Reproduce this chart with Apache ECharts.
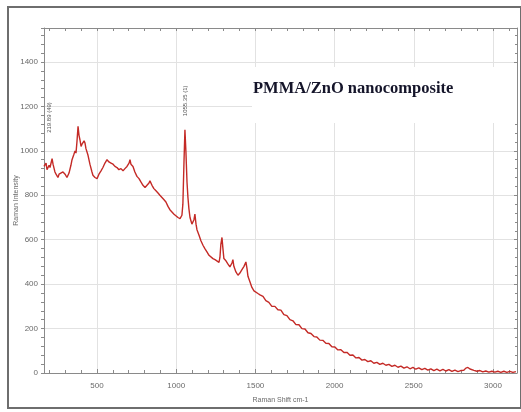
<!DOCTYPE html>
<html>
<head>
<meta charset="utf-8">
<script src="https://cdn.jsdelivr.net/npm/echarts@6/dist/echarts.min.js"></script>
<style>
  html, body { margin: 0; padding: 0; background: #fff; }
  #chart { width: 521px; height: 412px; }
</style>
</head>
<body>
<div id="chart"></div>
<script>
// Raman shift (cm-1)
var shift = [
  165, 178, 184, 197, 203, 216, 222, 234, 241, 253,
  260, 272, 285, 298, 310, 323, 335, 342, 354, 361,
  367, 373, 380, 386, 392, 399, 405, 418, 424, 430,
  443, 455, 468, 474, 487, 500, 512, 525, 537, 550,
  563, 575, 588, 601, 613, 626, 638, 651, 664, 676,
  689, 702, 708, 714, 727, 739, 752, 765, 777, 790,
  803, 815, 828, 834, 847, 859, 872, 885, 897, 910,
  923, 935, 948, 960, 973, 986, 998, 1011, 1024, 1036,
  1042, 1049, 1055, 1061, 1068, 1074, 1080, 1087, 1099, 1112,
  1118, 1125, 1131, 1144, 1156, 1169, 1181, 1194, 1207, 1219,
  1232, 1245, 1257, 1270, 1276, 1282, 1289, 1295, 1301, 1314,
  1327, 1339, 1352, 1358, 1364, 1377, 1390, 1402, 1415, 1428,
  1440, 1447, 1453, 1466, 1478, 1491, 1503, 1516, 1529, 1548,
  1566, 1585, 1604, 1623, 1642, 1661, 1680, 1699, 1718, 1737,
  1756, 1775, 1794, 1813, 1832, 1851, 1870, 1888, 1907, 1926,
  1945, 1964, 1983, 2002, 2021, 2040, 2059, 2078, 2097, 2116,
  2135, 2154, 2173, 2191, 2210, 2229, 2248, 2267, 2286, 2305,
  2324, 2343, 2362, 2381, 2400, 2419, 2438, 2457, 2476, 2495,
  2513, 2532, 2551, 2570, 2589, 2608, 2627, 2646, 2665, 2684,
  2703, 2722, 2741, 2760, 2779, 2797, 2816, 2829, 2842, 2855,
  2867, 2880, 2899, 2918, 2936, 2955, 2974, 2993, 3012, 3031,
  3050, 3069, 3088, 3107, 3126, 3145
];

var intensity = [
  930, 945, 915, 935, 925, 965, 940, 905, 895, 880,
  895, 890, 905, 895, 880, 900, 935, 960, 985, 1000,
  990, 1040, 1110, 1070, 1050, 1020, 1030, 1045, 1035, 1010,
  980, 940, 905, 890, 880, 875, 895, 910, 925, 945,
  960, 950, 945, 940, 930, 925, 915, 920, 910, 920,
  930, 945, 960, 940, 930, 905, 885, 875, 860, 845,
  835, 830, 855, 865, 845, 830, 820, 810, 800, 790,
  780, 770, 750, 735, 725, 715, 710, 700, 695, 710,
  760, 950, 1095, 1000, 860, 790, 740, 700, 670, 690,
  715, 670, 645, 620, 595, 575, 560, 545, 530, 525,
  515, 510, 505, 498, 520, 580, 610, 560, 515, 505,
  490, 478, 495, 510, 480, 455, 440, 450, 465, 480,
  500, 470, 435, 410, 385, 370, 362, 358, 352, 345,
  326, 318, 300, 300, 285, 283, 263, 258, 240, 235,
  218, 217, 200, 198, 181, 178, 164, 162, 148, 147,
  134, 133, 118, 117, 104, 105, 92, 93, 80, 81,
  68, 70, 58, 61, 51, 55, 44, 48, 39, 44,
  35, 39, 30, 35, 26, 31, 22, 28, 19, 25,
  17, 23, 15, 21, 13, 19, 11, 17, 10, 16,
  9, 15, 7, 13, 6, 11, 12, 22, 25, 18,
  20, 12, 8, 11, 5, 9, 4, 8, 4, 8,
  3, 8, 3, 7, 3, 6
];

var xTicks = [500, 1000, 1500, 2000, 2500, 3000];
var xMinorTicks = [200, 300, 400, 600, 700, 800, 900, 1100, 1200, 1300, 1400,
  1600, 1700, 1800, 1900, 2100, 2200, 2300, 2400, 2600, 2700, 2800, 2900, 3100];

// peak tags drawn upright next to the peaks
var peakTags = [
  { shift: 197, height: 1150, text: '219.89 (49)' },
  { shift: 1055, height: 1225, text: '1055.35 (1)' }
];

var points = shift.map(function (s, i) { return [s, intensity[i]]; });

var xMin = 165, xMax = 3152, yMax = 1553;
var axisGray = '#8a8a8a';
var labelGray = '#6a6a6a';

function plain(v) { return String(v); }

var chart = echarts.init(document.getElementById('chart'));

var option = {
  backgroundColor: '#fff',
  animation: false,
  grid: { left: 44, right: 4, top: 28, bottom: 39, containLabel: false, outerBoundsMode: 'none' },
  xAxis: [
    {
      type: 'value', min: xMin, max: xMax, position: 'bottom',
      name: 'Raman Shift cm-1', nameLocation: 'middle', nameGap: 24, nameMoveOverlap: false,
      nameTextStyle: { fontSize: 7, color: labelGray },
      axisLine: { lineStyle: { color: axisGray, width: 1 } },
      axisTick: { customValues: xTicks, inside: true, length: 4, lineStyle: { color: axisGray } },
      axisLabel: { customValues: xTicks, fontSize: 8, color: labelGray, margin: 9, formatter: plain },
      splitLine: { show: true, lineStyle: { color: '#e2e2e2', width: 1 } }
    },
    {
      type: 'value', min: xMin, max: xMax, position: 'bottom',
      axisLine: { show: false },
      axisTick: { customValues: xMinorTicks, inside: true, length: 3, lineStyle: { color: axisGray } },
      axisLabel: { show: false },
      splitLine: { show: false }
    },
    {
      type: 'value', min: xMin, max: xMax, position: 'top',
      axisLine: { lineStyle: { color: axisGray, width: 1 } },
      axisTick: { customValues: xTicks.concat(xMinorTicks), inside: true, length: 3, lineStyle: { color: axisGray } },
      axisLabel: { show: false },
      splitLine: { show: false }
    }
  ],
  yAxis: [
    {
      type: 'value', min: 0, max: yMax, interval: 200, position: 'left',
      name: 'Raman Intensity', nameLocation: 'middle', nameGap: 24, nameMoveOverlap: false,
      nameTextStyle: { fontSize: 7, color: labelGray },
      axisLine: { show: true, lineStyle: { color: axisGray, width: 1 } },
      axisTick: { show: true, inside: false, length: 3, lineStyle: { color: axisGray } },
      minorTick: { show: true, splitNumber: 5, length: 3, lineStyle: { color: axisGray } },
      axisLabel: { fontSize: 8, color: labelGray, margin: 6, showMaxLabel: false, formatter: plain },
      splitLine: { show: true, lineStyle: { color: '#e2e2e2', width: 1 } }
    },
    {
      type: 'value', min: 0, max: yMax, interval: 200, position: 'right',
      axisLine: { show: true, lineStyle: { color: axisGray, width: 1 } },
      axisTick: { show: true, inside: true, length: 3, lineStyle: { color: axisGray } },
      minorTick: { show: true, splitNumber: 5, length: 2, lineStyle: { color: axisGray } },
      axisLabel: { show: false },
      splitLine: { show: false }
    }
  ],
  title: {
    text: 'PMMA/ZnO nanocomposite',
    left: 253, top: 80, padding: 0,
    textStyle: {
      fontFamily: 'Liberation Serif', fontWeight: 'bold', fontSize: 16.5, color: '#15152a'
    }
  },
  graphic: [
    {
      type: 'rect', z: 1,
      shape: { x: 252, y: 67, width: 265, height: 56 },
      style: { fill: '#fff' }
    },
    {
      type: 'rect', z: 10,
      shape: { x: 8, y: 7, width: 513, height: 401 },
      style: { fill: 'none', stroke: '#6e6e6e', lineWidth: 2 }
    }
  ],
  series: [
    {
      type: 'line',
      xAxisIndex: 0,
      yAxisIndex: 0,
      data: points,
      showSymbol: false,
      lineStyle: { color: '#c42a26', width: 1.4 },
      markPoint: {
        symbol: 'rect', symbolSize: 0,
        label: {
          show: true, rotate: 90, fontSize: 6, color: '#555',
          formatter: function (p) { return p.name; }
        },
        data: peakTags.map(function (t) {
          return { name: t.text, coord: [t.shift, t.height] };
        })
      }
    }
  ]
};

chart.setOption(option);
</script>
</body>
</html>
